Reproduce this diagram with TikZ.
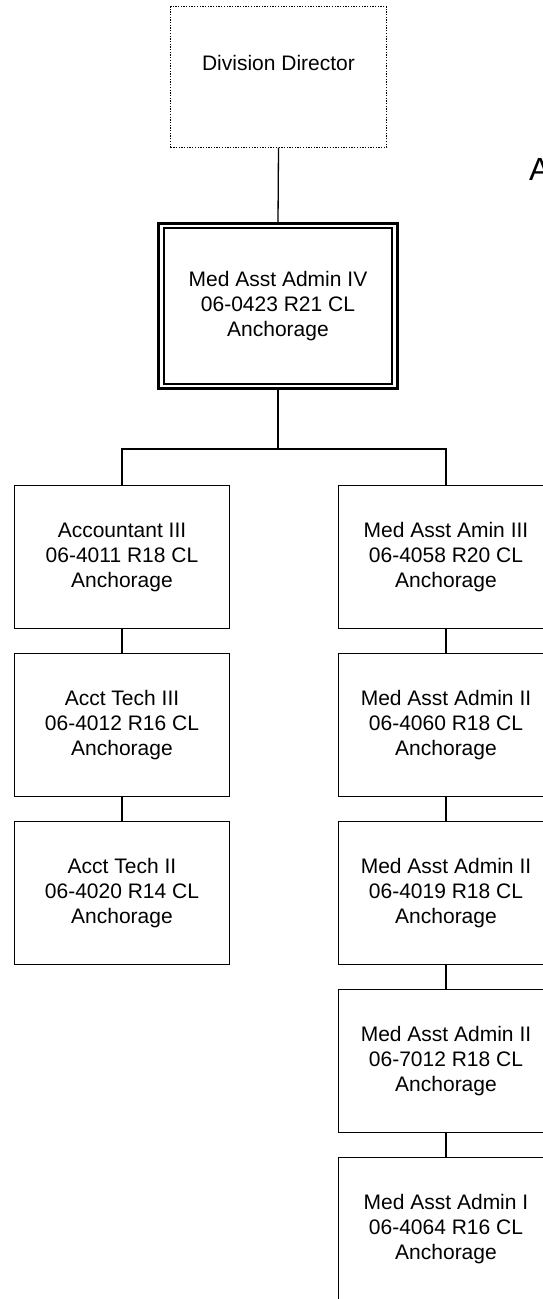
\documentclass[tikz,border=0pt]{standalone}
\usepackage{fontspec}
\setmainfont{Liberation Sans}
\usetikzlibrary{positioning}
\tikzstyle{post} = [draw, line width=1.3pt, outer sep=0pt, inner sep=0pt, minimum width=215pt, minimum height=143pt, align=center, font=\fontsize{21}{25}\selectfont]
\tikzstyle{link} = [line width=1.3pt]

\begin{document}
\begin{tikzpicture}[x=1pt,y=-1pt,node distance=25pt]
	\useasboundingbox (0,0) rectangle (543,1299);
	\begin{scope}
		\clip (0,0) rectangle (543,1299);

		\node[post, dash pattern=on 1.3pt off 1.4pt, minimum width=216pt, minimum height=141pt,
			label={[font=\fontsize{21}{25}\selectfont, yshift=14pt]center:Division Director}] (dir) at (278.5,77) {};

		\node[post, line width=2.6pt, minimum width=239.5pt, minimum height=165.5pt] (mgr) at (278,306) {Med Asst Admin IV\\06-0423 R21 CL\\Anchorage};
		\draw[line width=1.7pt] ([xshift=5.5pt,yshift=-4.5pt]mgr.north west) rectangle ([xshift=-5.5pt,yshift=4.5pt]mgr.south east);

		\node[post] (acct) at (122,557) {Accountant III\\06-4011 R18 CL\\Anchorage};
		\node[post, below=of acct] (techthree) {Acct Tech III\\06-4012 R16 CL\\Anchorage};
		\node[post, below=of techthree] (techtwo) {Acct Tech II\\06-4020 R14 CL\\Anchorage};

		\node[post] (aminthree) at (446,557) {Med Asst Amin III\\06-4058 R20 CL\\Anchorage};
		\node[post, below=of aminthree] (admtwoa) {Med Asst Admin II\\06-4060 R18 CL\\Anchorage};
		\node[post, below=of admtwoa] (admtwob) {Med Asst Admin II\\06-4019 R18 CL\\Anchorage};
		\node[post, below=of admtwob] (admtwoc) {Med Asst Admin II\\06-7012 R18 CL\\Anchorage};
		\node[post, below=of admtwoc] (admone) {Med Asst Admin I\\06-4064 R16 CL\\Anchorage};

		\node[anchor=base west, inner sep=0pt, font=\fontsize{32}{38}\selectfont] (title) at (529,180) {A};

		\coordinate (split) at (278,449);
		\draw[link] (dir.south) -- (mgr.north);
		\draw[link] (mgr.south) -- (split);
		\draw[link] (acct.north) |- (split) -| (aminthree.north);
		\draw[link] (acct.south) -- (techthree.north);
		\draw[link] (techthree.south) -- (techtwo.north);
		\draw[link] (aminthree.south) -- (admtwoa.north);
		\draw[link] (admtwoa.south) -- (admtwob.north);
		\draw[link] (admtwob.south) -- (admtwoc.north);
		\draw[link] (admtwoc.south) -- (admone.north);
	\end{scope}
\end{tikzpicture}
\end{document}
